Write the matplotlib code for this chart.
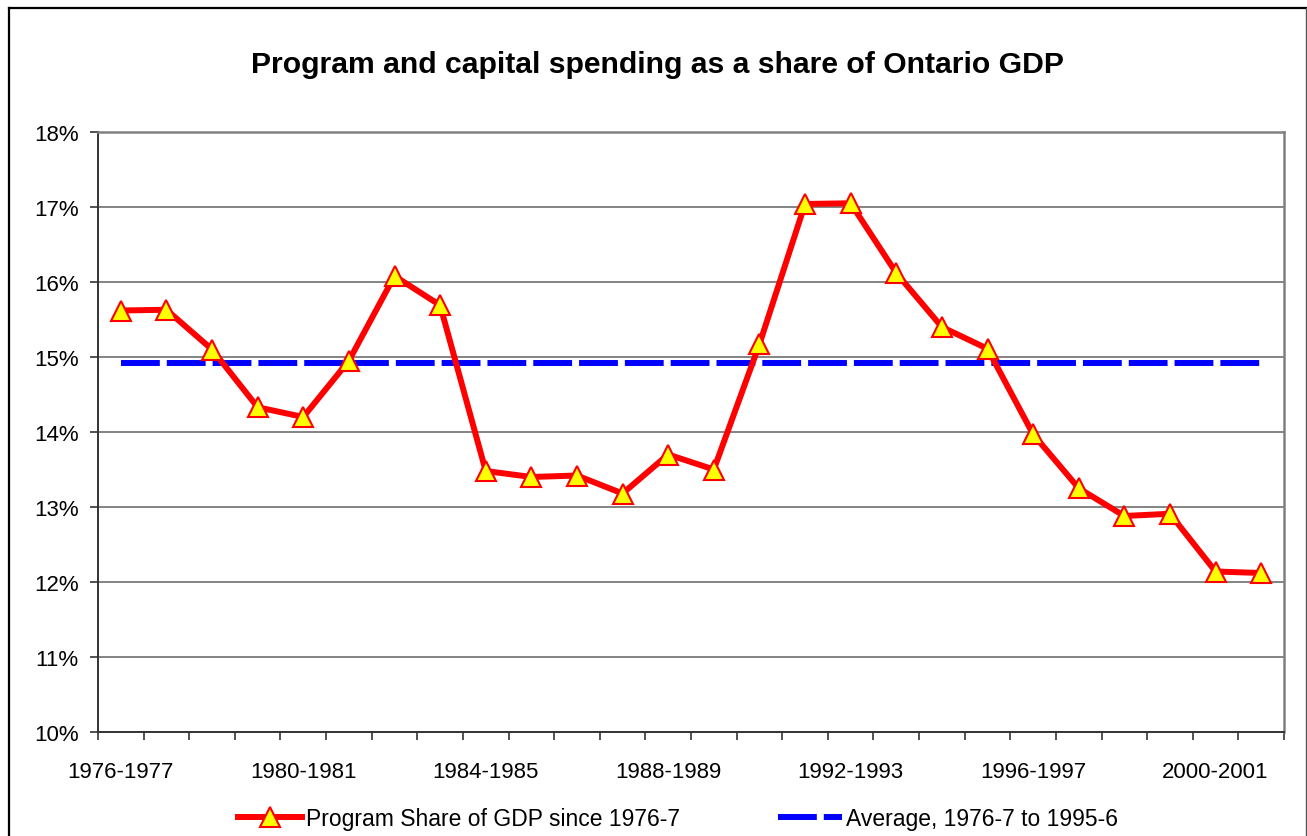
import matplotlib
matplotlib.use("Agg")
import matplotlib.pyplot as plt
from matplotlib.lines import Line2D
from matplotlib.ticker import FixedLocator, FuncFormatter

plt.rcParams['font.family'] = ['Liberation Sans', 'DejaVu Sans']

# ---- data ----
years = [f"{y}-{y+1}" for y in range(1976, 2002)]
program_share = [15.62, 15.63, 15.10, 14.33, 14.20, 14.95, 16.08, 15.69, 13.48, 13.40,
                 13.42, 13.18, 13.70, 13.50, 15.17, 17.04, 17.05, 16.12, 15.40, 15.11,
                 13.97, 13.25, 12.88, 12.91, 12.14, 12.12]
average_value = 14.92
average_series = [average_value] * len(years)
yticks = [10, 11, 12, 13, 14, 15, 16, 17, 18]
label_every = 4

title = "Program and capital spending as a share of Ontario GDP"
label_program = "Program Share of GDP since 1976-7"
label_avg = "Average, 1976-7 to 1995-6"

W, H = 1307, 837
fig = plt.figure(figsize=(W / 100, H / 100), dpi=100)
fig.patch.set_facecolor("white")

ax = fig.add_axes([98 / W, (H - 733) / H, 1186 / W, 600 / H])
x = list(range(len(years)))

ax.plot(x, average_series, color="#0000FF", lw=4.3, dashes=(6.5, 1.17),
        solid_capstyle="butt", dash_capstyle="butt", label=label_avg, zorder=3)
ax.plot(x, program_share, color="#FF0000", lw=4.3, marker="^", markersize=14,
        markerfacecolor="#FFFF00", markeredgecolor="#FF0000", markeredgewidth=1.5,
        label=label_program, zorder=4)

ax.set_xlim(-0.5, len(years) - 0.5)
ax.set_ylim(yticks[0], yticks[-1])
ax.set_yticks(yticks)
ax.yaxis.set_major_formatter(FuncFormatter(lambda v, p: f"{v:.0f}%"))
ax.grid(axis="y", color="#6e6e6e", lw=1.2, zorder=1)
ax.set_axisbelow(True)

# major x ticks at category boundaries (no labels), minor ticks for labels
ax.xaxis.set_major_locator(FixedLocator([i - 0.5 for i in range(len(years) + 1)]))
ax.xaxis.set_major_formatter(FuncFormatter(lambda v, p: ""))
lab_pos = x[::label_every]
ax.xaxis.set_minor_locator(FixedLocator(lab_pos))
ax.set_xticklabels([years[i] for i in lab_pos], minor=True)
ax.tick_params(axis="x", which="major", length=6, width=1.2, color="#333333", direction="out")
ax.tick_params(axis="x", which="minor", length=0, pad=21, labelsize=16)
ax.tick_params(axis="y", which="major", length=6, width=1.2, color="#333333", pad=8, labelsize=16)

for s in ["left", "bottom"]:
    ax.spines[s].set_color("#333333")
    ax.spines[s].set_linewidth(1.4)
for s in ["right", "top"]:
    ax.spines[s].set_color("#808080")
    ax.spines[s].set_linewidth(1.8)

fig.text(657 / W, 1 - 65 / H, title, ha="center", va="center",
         fontsize=21.7, fontweight="bold")

# legend
handles, labels = ax.get_legend_handles_labels()
leg = fig.legend([handles[1], handles[0]], [labels[1], labels[0]],
                 loc="center", bbox_to_anchor=(678 / W, 1 - 820 / H), ncol=2,
                 frameon=False, fontsize=16.5, handlelength=2.8, handletextpad=0.15,
                 columnspacing=4.3, borderpad=0)

# outer frame
fig.add_artist(Line2D([9 / W, 9 / W], [0, 1 - 9 / H], transform=fig.transFigure,
                      color="black", lw=1.6))
fig.add_artist(Line2D([9 / W, 1306 / W], [1 - 9 / H, 1 - 9 / H], transform=fig.transFigure,
                      color="black", lw=1.6))
fig.add_artist(Line2D([1305.5 / W, 1305.5 / W], [0, 1 - 9 / H], transform=fig.transFigure,
                      color="#555555", lw=1.0))

fig.savefig("out.png", dpi=100, facecolor="white")
